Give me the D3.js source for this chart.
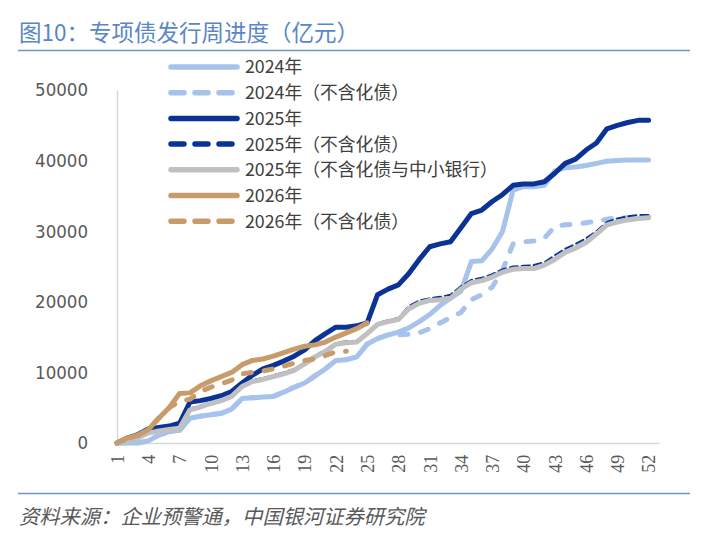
<!DOCTYPE html>
<html><head><meta charset="utf-8">
<script src="https://cdn.jsdelivr.net/npm/d3@7"></script>
<style>
html,body{margin:0;padding:0;background:#fff;}
svg{display:block;}
</style></head>
<body>
<svg id="c" width="720" height="546"></svg>
<script>
const weeks = d3.range(1, 53);
const tickWeeks = [1,4,7,10,13,16,19,22,25,28,31,34,37,40,43,46,49,52];
const yTicks = [0,10000,20000,30000,40000,50000];

const v2024 = [0,0,0,300,1100,1600,1800,3500,3800,4000,4200,4800,6300,6400,6500,6600,7200,7900,8500,9500,10500,11700,11800,12200,14000,14800,15300,15700,16300,17200,18200,19500,20500,21500,25700,25800,27500,30000,35800,36300,36300,36500,38500,39000,39100,39300,39600,39900,40000,40100,40100,40100];
const v2024ex = [0,0,0,300,1100,1600,1800,3500,3800,4000,4200,4800,6300,6400,6500,6600,7200,7900,8500,9500,10500,11700,11800,12200,14000,14800,15300,15300,15400,15600,16200,17000,17800,18500,20300,21000,22100,24500,28200,28500,28600,29000,30700,30900,31000,31200,31400,31700,31900,31900,32000,32000];
const v2025 = [0,700,1200,2000,2200,2400,2800,5800,6000,6300,6700,7300,8500,9600,10500,11000,11600,12300,13200,14500,15500,16400,16400,16600,17000,21000,21800,22400,24000,26000,27800,28200,28500,30500,32500,33000,34200,35200,36500,36700,36700,37000,38200,39600,40200,41500,42500,44500,45000,45400,45700,45700];
const v2025ex = [0,400,800,1600,1900,2100,2300,4900,5300,5800,6200,6800,8200,8900,9200,9600,10000,10500,11400,12400,13200,14200,14400,14500,15700,17000,17400,17700,19400,20200,20500,20700,21000,22200,23100,23400,23900,24600,25000,25100,25200,25600,26600,27500,28200,29000,30000,31300,31800,32100,32300,32300];
const v2025exb = [0,300,700,1400,1700,1900,2100,4700,5100,5600,6000,6600,8000,8700,9000,9400,9800,10300,11200,12200,13000,14000,14200,14300,15500,16800,17200,17500,19000,19800,20200,20300,20500,21800,22700,23000,23500,24200,24600,24700,24700,25200,26000,27000,27600,28400,29600,30900,31300,31600,31800,31900];
const v2026 = [0,700,1100,1900,3500,5000,7000,7100,8100,8800,9400,10000,11100,11700,11900,12300,12800,13300,13700,13900,14300,15000,15600,16200,17000];
const v2026ex = [0,700,1100,1900,3500,5000,5900,6200,7300,7900,8400,8900,9800,10000,10200,10500,10900,11300,11700,11900,12400,12900,13000];

const seriesNames = ["2024年","2024年（不含化债）","2025年","2025年（不含化债）","2025年（不含化债与中小银行）","2026年","2026年（不含化债）"];
const seriesValues = [v2024, v2024ex, v2025, v2025ex, v2025exb, v2026, v2026ex];
const styles = [
  {color:"#A7C3EB", w:5, dash:null, lw:5.5, ldash:null},
  {color:"#A7C3EB", w:5, dash:"8,13", lw:5.5, ldash:"13,11"},
  {color:"#0B3396", w:5, dash:null, lw:5.5, ldash:null},
  {color:"#0B3396", w:2, dash:"8,4", lw:5.5, ldash:"13,11"},
  {color:"#C0C0C0", w:5, dash:null, lw:5.5, ldash:null},
  {color:"#C89C6A", w:5, dash:null, lw:5.5, ldash:null},
  {color:"#C89C6A", w:5, dash:"8,13", lw:5.5, ldash:"13,11"}
];

const svg = d3.select("#c");
const CJK = "'Noto Sans CJK SC','Noto Sans',sans-serif";

// title
svg.append("text").attr("x",19).attr("y",41)
  .attr("font-family",CJK).attr("font-size",22.5).attr("fill","#5A86C6")
  .text("图10：专项债发行周进度（亿元）");
svg.append("line").attr("x1",18).attr("x2",690).attr("y1",50.5).attr("y2",50.5)
  .attr("stroke","#6F95CF").attr("stroke-width",1.6);

const x = d3.scaleLinear().domain([1,53]).range([117,659]);
const y = d3.scaleLinear().domain([0,50000]).range([443,90]);

// axes
const gy = svg.append("g").attr("transform","translate(117,0)")
  .call(d3.axisLeft(y).tickValues(yTicks).tickSize(0).tickPadding(29).tickFormat(d3.format("d")));
gy.select(".domain").attr("stroke","#D9D9D9").attr("stroke-width",1.5);
gy.selectAll("text").attr("font-family","'Liberation Sans Narrow','DejaVu Sans Condensed',sans-serif")
  .attr("font-size",18.5).attr("fill","#595959");

const gx = svg.append("g").attr("transform","translate(0,443)")
  .call(d3.axisBottom(x).tickValues(tickWeeks).tickSize(0).tickFormat(d3.format("d")));
gx.select(".domain").attr("stroke","#D9D9D9").attr("stroke-width",1.5);
gx.selectAll("text")
  .attr("font-family","'Liberation Serif',serif").attr("font-size",18).attr("fill","#595959")
  .attr("transform","rotate(-90)").attr("text-anchor","end").attr("dy","0.35em").attr("dx","-0.65em").attr("y",0).attr("x",0);

// lines
const line = d3.line().x((d,i)=>x(i+1)).y(d=>y(d));
const gl = svg.append("g");
seriesValues.forEach((vals,i)=>{
  const s = styles[i];
  const p = gl.append("path").datum(vals).attr("d",line)
    .attr("fill","none").attr("stroke",s.color).attr("stroke-width",s.w)
    .attr("stroke-linejoin","round").attr("stroke-linecap","round");
  if(s.dash) p.attr("stroke-dasharray",s.dash);
});

// legend
const lg = svg.append("g");
seriesNames.forEach((name,i)=>{
  const s = styles[i];
  const yy = 67 + i*25.7;
  const l = lg.append("line").attr("x1",171).attr("x2",237).attr("y1",yy).attr("y2",yy)
    .attr("stroke",s.color).attr("stroke-width",s.lw).attr("stroke-linecap","round");
  if(s.ldash) l.attr("stroke-dasharray",s.ldash);
  lg.append("text").attr("x",245).attr("y",yy).attr("dy","0.36em")
    .attr("font-family",CJK).attr("font-size",17.8).attr("fill","#404040").text(name);
});

// footer
svg.append("line").attr("x1",18).attr("x2",690).attr("y1",493.5).attr("y2",493.5)
  .attr("stroke","#6F95CF").attr("stroke-width",1.6);
svg.append("text").attr("x",19).attr("y",524)
  .attr("font-family",CJK).attr("font-size",20.3).attr("font-style","italic").attr("fill","#595959")
  .text("资料来源：企业预警通，中国银河证券研究院");
</script>
</body></html>
